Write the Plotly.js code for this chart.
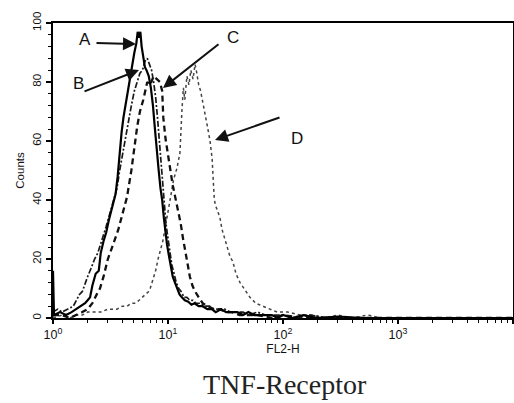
<!DOCTYPE html>
<html>
<head>
<meta charset="utf-8">
<script src="https://cdn.plot.ly/plotly-3.0.1.min.js"></script>
<style>html,body{margin:0;padding:0;background:#fff;}#chart{width:514px;height:403px;}</style>
</head>
<body>
<div id="chart"></div>
<script>
// FL2-H channel values and counts
const xA = [1.00,1.02,1.15,1.3,1.45,1.6,1.75,1.9,2.0,2.1,2.2,2.35,2.5,2.6,2.75,2.9,3.05,3.2,3.35,3.5,3.65,3.8,3.95,4.1,4.3,4.5,4.7,4.9,5.1,5.3,5.45,5.6,5.75,5.9,6.1,6.3,6.5,6.8,7.1,7.4,7.7,8.0,8.3,8.6,8.9,9.2,9.5,9.8,10.2,10.6,11.0,11.5,12.0,12.6,13.2,14,15,16,17,18.5,20,22,24,26,29,32,36,40,45,50,56,63,70,80,90,100,120,150,200,300,500,1000,10000];
const yA = [16,1,2,1,2,3,4,5,6,7,11,15,16,22,26,29,33,36,39,42,48,57,63,68,73,78,83,86,90,93,97,95,97,92,88,85,84,82,78,72,64,58,50,44,40,34,28,25,21,17,14,12,10,8,7,6,5.5,4.5,5,4,4,3,3,2,3,2,2,2,1,2,1,1,1,1,0,1,0,1,0,0.5,0,0,0];

const xB = [1.0,1.1,1.2,1.35,1.5,1.6,1.7,1.8,1.9,2.0,2.15,2.3,2.45,2.6,2.75,2.9,3.05,3.2,3.4,3.6,3.8,4.0,4.25,4.5,4.8,5.1,5.4,5.7,6.0,6.3,6.6,6.9,7.2,7.5,7.8,8.1,8.4,8.7,9.0,9.3,9.6,10.0,10.4,10.8,11.3,11.8,12.4,13.0,13.8,14.6,15.5,16.5,17.5,19,21,23,25,28,31,35,40,45,50,60,70,85,100,130,170,250,400,10000];
const yB = [2,3,2,3,4,6,8,9,12,14,17,20,22,25,28,31,34,37,40,44,50,55,61,66,72,77,80,83,84,87,88,86,84,80,75,68,60,52,45,38,32,27,22,18,15,12,10,9,7,7,6,6,5,5,4,4,3,3,3,2,2,2,1,2,1,1,1,0,1,0,0,0];

const xC = [1.0,1.2,1.4,1.6,1.8,2.0,2.2,2.4,2.56,2.75,3.0,3.2,3.45,3.7,4.0,4.4,4.8,5.16,5.4,5.7,6.1,6.6,7.0,7.5,8.0,8.5,8.9,9.1,9.5,10.0,10.5,11.0,11.7,12.3,12.9,13.5,14.1,14.8,15.5,16.3,17.2,18.5,20,22,25,28,32,36,42,50,60,80,100,150,10000];
const yC = [1,1,0,1,2,3,5,8,10,14,20,23,27,30,35,41,50,60,65,70,74,80,79,82,81,80,77,68,61,56,50,45,40,36,32,27,23,18,14,11,9,7,5,4,3,3,2,2,1,1,1,0,1,0,0];

const xD = [1.0,1.2,1.4,1.6,1.8,2.0,2.3,2.6,3.0,3.3,3.6,4.0,4.4,4.8,5.2,5.6,6.0,6.4,6.8,7.0,7.4,7.8,8.2,8.6,9.0,9.4,9.8,10.2,10.7,11.2,12.0,12.7,13.2,13.6,14.0,14.6,15.2,15.8,16.5,17.2,17.8,18.5,19.2,19.9,20.5,21.2,22.0,23.2,24.2,24.8,25.3,26.0,27.0,28.3,29.5,31.0,32.5,34.5,36.7,39,42.3,46,51.6,58,67,77,89,110,141,180,230,300,400,550,700,1000,10000];
const yD = [0,1,0,1,1,2,2,2,3,3,3,4,4,5,5,6,7,8,9,10,13,16,20,23,26,30,34,38,43,47,51,56,70,78,74,82,79,84,81,86,83,79,77,74,72,68,65,60,54,46,40,38,36,34,30,27,25,21,19,15,12,10,7,5,4,3,2,2,1,1,0,1,0,1,0,0,0];

const xTickVals = [1,10,100,1000,10000];
const xTickText = ['10<sup>0</sup>','10<sup>1</sup>','10<sup>2</sup>','10<sup>3</sup>','10<sup>4</sup>'];
const yTickVals = [0,20,40,60,80,100];

const traces = [
  {x:xD, y:yD, mode:'lines', line:{color:'#444', width:1.5, dash:'dot'}},
  {x:xC, y:yC, mode:'lines', line:{color:'#111', width:2.3, dash:'6px,4px'}},
  {x:xB, y:yB, mode:'lines', line:{color:'#1a1a1a', width:1.7, dash:'6px,2px,2px,2px'}},
  {x:xA, y:yA, mode:'lines', line:{color:'#000', width:2.2}}
];

const fontSans = 'Liberation Sans, Arial, sans-serif';
function px2x(p){return (p-53)/460;}
function py2y(p){return (318-p)/295;}
const lab = {family:fontSans, size:17, color:'#111'};

const layout = {
  width:514, height:403,
  margin:{l:53, r:1, t:23, b:85},
  paper_bgcolor:'#fff', plot_bgcolor:'#fff',
  showlegend:false,
  xaxis:{
    type:'log', range:[0,4], showgrid:false, zeroline:false,
    showline:true, linecolor:'#000', linewidth:2, mirror:true,
    ticks:'outside', ticklen:4, tickwidth:1.2, tickcolor:'#000',
    tickmode:'array', tickvals:xTickVals, ticktext:xTickText,
    minor:{ticks:'outside', ticklen:3, tickwidth:1, tickcolor:'#000', dtick:'D1'},
    tickfont:{family:fontSans, size:12.5, color:'#111'},
    title:{text:'FL2-H', font:{family:fontSans, size:12, color:'#111'}, standoff:3}
  },
  yaxis:{
    range:[0,100], showgrid:false, zeroline:false,
    showline:true, linecolor:'#000', linewidth:2, mirror:true,
    ticks:'outside', ticklen:5, tickwidth:1.2, tickcolor:'#000',
    tickmode:'array', tickvals:yTickVals, tickangle:-90,
    minor:{ticks:'outside', ticklen:3, tickwidth:1, tickcolor:'#000', dtick:4},
    tickfont:{family:fontSans, size:11.5, color:'#111'},
    title:{text:'Counts', font:{family:fontSans, size:11.5, color:'#111'}, standoff:4}
  },
  annotations:[
    {xref:'paper', yref:'paper', x:px2x(85), y:py2y(40), xanchor:'center', yanchor:'middle', text:'A', showarrow:false, font:lab},
    {xref:'paper', yref:'paper', x:px2x(78), y:py2y(84), xanchor:'center', yanchor:'middle', text:'B', showarrow:false, font:lab},
    {xref:'paper', yref:'paper', x:px2x(233), y:py2y(37), xanchor:'center', yanchor:'middle', text:'C', showarrow:false, font:lab},
    {xref:'paper', yref:'paper', x:px2x(297), y:py2y(138), xanchor:'center', yanchor:'middle', text:'D', showarrow:false, font:lab},
    {xref:'paper', yref:'paper', x:px2x(136), y:py2y(44), text:'', showarrow:true, ax:-41, ay:-1, arrowhead:2, arrowsize:1.3, arrowwidth:2, arrowcolor:'#111'},
    {xref:'paper', yref:'paper', x:px2x(139), y:py2y(70), text:'', showarrow:true, ax:-56, ay:22, arrowhead:2, arrowsize:1.3, arrowwidth:2, arrowcolor:'#111'},
    {xref:'paper', yref:'paper', x:px2x(163), y:py2y(88), text:'', showarrow:true, ax:57, ay:-45, arrowhead:2, arrowsize:1.3, arrowwidth:2, arrowcolor:'#111'},
    {xref:'paper', yref:'paper', x:px2x(215), y:py2y(140), text:'', showarrow:true, ax:66, ay:-23, arrowhead:2, arrowsize:1.3, arrowwidth:2, arrowcolor:'#111'},
    {xref:'paper', yref:'paper', x:px2x(285), y:py2y(384), xanchor:'center', yanchor:'middle', text:'TNF-Receptor', showarrow:false, font:{family:'Liberation Serif, Times New Roman, serif', size:28, color:'#222'}}
  ]
};

Plotly.newPlot('chart', traces, layout, {staticPlot:true, displayModeBar:false});
</script>
</body>
</html>
